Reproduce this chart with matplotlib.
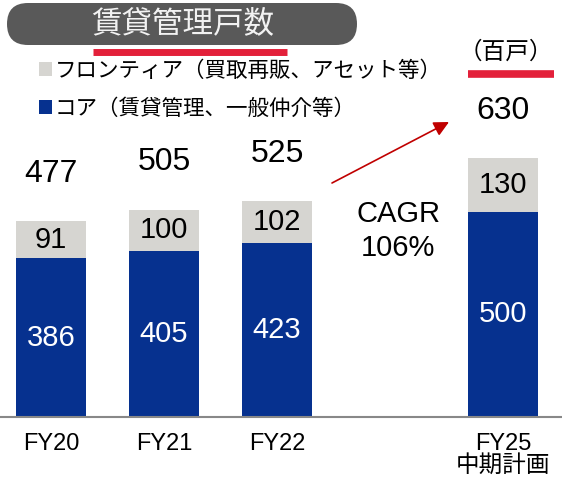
import matplotlib
matplotlib.use("Agg")
import matplotlib.pyplot as plt
from matplotlib.patches import FancyBboxPatch

plt.rcParams['font.family'] = ['Liberation Sans', 'Noto Sans CJK JP']

# data (百戸)
years = ['FY20', 'FY21', 'FY22', 'FY25\n中期計画']
xpos = [0, 1, 2, 4]
core = [386, 405, 423, 500]
frontier = [91, 100, 102, 130]
totals = [477, 505, 525, 630]

blue = '#06318f'
gray = '#d6d5d1'
red = '#e3203a'

fig = plt.figure(figsize=(5.62, 4.78), dpi=100)
ax = fig.add_axes([0, 61.3 / 478, 1, 416.7 / 478])
ax.set_xlim(-0.451, 4.522)
ax.set_ylim(0, 416.7 / 0.41)

b1 = ax.bar(xpos, core, width=0.62, color=blue, label='コア（賃貸管理、一般仲介等）')
b2 = ax.bar(xpos, frontier, width=0.62, bottom=core, color=gray,
            label='フロンティア（買取再販、アセット等）')

for xi, c, f, t in zip(xpos, core, frontier, totals):
    ax.text(xi, c / 2, str(c), ha='center', va='center', fontsize=21, color='white')
    ax.text(xi, c + f / 2, str(f), ha='center', va='center', fontsize=21, color='black')
    ax.annotate(str(t), (xi, t), xytext=(0, 34), textcoords='offset points',
                ha='center', va='center', fontsize=23)

for s in ['top', 'right', 'left']:
    ax.spines[s].set_visible(False)
ax.spines['bottom'].set_color('#888888')
ax.spines['bottom'].set_linewidth(1.5)
ax.set_yticks([])
ax.set_xticks(xpos, years)
ax.tick_params(axis='x', length=0, pad=12, labelsize=17)
for lab in ax.get_xticklabels():
    lab.set_linespacing(0.95)

leg = ax.legend(handles=[b2, b1], loc='upper left',
                bbox_to_anchor=(39 / 562, 1 - 61 / 416.7),
                frameon=False, fontsize=15.5, handlelength=0.62, handleheight=0.62,
                handletextpad=0.12, labelspacing=0.78, borderaxespad=0, borderpad=0)

# overlay in pixel coordinates for title, unit, CAGR arrow
ov = fig.add_axes([0, 0, 1, 1], zorder=5)
ov.set_xlim(0, 562)
ov.set_ylim(478, 0)
ov.axis('off')
ov.patch.set_alpha(0)

box = FancyBboxPatch((7, 3), 350, 42, boxstyle='round,pad=0,rounding_size=21',
                     facecolor='#595959', edgecolor='none')
ov.add_patch(box)
ov.text(183, 24, '賃貸管理戸数', ha='center', va='center', fontsize=22, color='#f2f2f2')
ov.plot([93, 287], [51.5, 51.5], color=red, lw=5, solid_capstyle='butt')

ov.text(506, 52, '（百戸）', ha='center', va='center', fontsize=17)
ov.plot([468, 554], [74, 74], color=red, lw=5.5, solid_capstyle='butt')

ov.annotate('', xy=(449, 122), xytext=(332, 183),
            arrowprops=dict(arrowstyle='-|>,head_length=0.9,head_width=0.45',
                            color='#c00000', lw=1.2, shrinkA=0, shrinkB=0))
ov.text(398, 231, 'CAGR\n106%', ha='center', va='center', fontsize=21, linespacing=1.23)

fig.savefig('out.png', dpi=100)
